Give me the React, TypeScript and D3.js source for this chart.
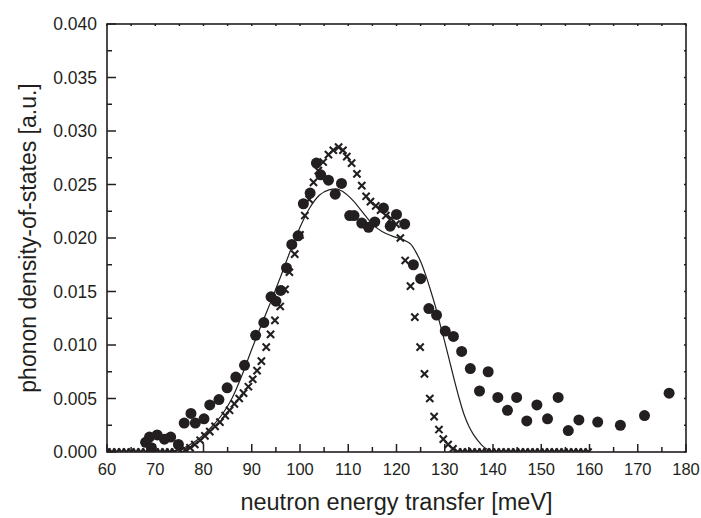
import React from "react";
import * as d3 from "d3";

// ---- data ----
const dotE = [68.0, 68.8, 69.2, 70.4, 71.9, 73.2, 74.8, 76.0, 77.4, 78.3, 80.1, 81.3, 83.2, 84.9, 86.7, 88.5, 90.8, 92.5, 94.0, 95.0, 96.0, 97.2, 98.3, 99.6, 100.7, 102.1, 103.4, 104.3, 105.9, 107.3, 108.6, 110.3, 111.2, 112.8, 114.2, 115.5, 117.3, 118.7, 120.0, 121.7, 123.5, 125.0, 126.7, 128.3, 130.1, 131.8, 133.5, 135.3, 137.2, 139.0, 141.0, 143.0, 144.9, 147.0, 149.1, 151.3, 153.5, 155.6, 157.8, 161.7, 166.4, 171.4, 176.5];
const dotV = [0.0009, 0.0014, 0.0004, 0.0016, 0.0012, 0.0014, 0.0007, 0.0027, 0.0036, 0.0027, 0.0031, 0.0044, 0.0049, 0.0060, 0.0070, 0.0081, 0.0109, 0.0121, 0.0145, 0.0141, 0.0151, 0.0172, 0.0194, 0.0202, 0.0232, 0.0242, 0.0270, 0.0259, 0.0254, 0.0241, 0.0251, 0.0221, 0.0221, 0.0214, 0.0210, 0.0215, 0.0228, 0.0211, 0.0222, 0.0213, 0.0175, 0.0162, 0.0134, 0.0128, 0.0113, 0.0108, 0.0094, 0.0078, 0.0057, 0.0075, 0.0051, 0.0039, 0.0051, 0.0029, 0.0044, 0.0031, 0.0051, 0.0020, 0.0030, 0.0028, 0.0025, 0.0034, 0.0055];

const crossE = [60, 61, 62, 63, 64, 65, 66, 67, 68, 69, 70, 71, 72, 73, 74, 75.2, 76.2, 77.2, 78.2, 79.3, 80.3, 81.3, 82.4, 83.4, 84.5, 85.4, 86.4, 87.4, 88.3, 89.3, 90.2, 91.1, 92.0, 93.0, 93.9, 94.8, 95.9, 96.9, 97.8, 98.9, 100.0, 101.0, 101.9, 102.8, 103.8, 104.8, 105.9, 106.9, 108.0, 108.9, 109.7, 110.7, 111.8, 112.8, 113.7, 114.6, 115.7, 116.7, 117.8, 118.9, 119.9, 120.8, 121.8, 122.9, 123.8, 124.9, 125.8, 126.9, 127.8, 128.8, 129.7, 130.7, 131.7, 132.7, 133.7, 134.7, 135.7, 136.7, 137.7, 138.7, 139.7, 140.7, 141.7, 142.7, 143.7, 144.7, 145.7, 146.7, 147.7, 148.7, 149.7, 150.7, 151.7, 152.7, 153.7, 154.7, 155.7, 156.7, 157.7, 158.7, 159.7];
const crossV = [0, 0, 0, 0, 0, 0, 0, 0, 0, 0, 0, 0, 0, 0, 0, 0.0001, 0.0002, 0.0004, 0.0007, 0.0011, 0.0015, 0.0019, 0.0024, 0.0028, 0.0034, 0.0039, 0.0045, 0.0050, 0.0055, 0.0061, 0.0068, 0.0076, 0.0085, 0.0098, 0.0110, 0.0123, 0.0136, 0.0152, 0.0168, 0.0185, 0.0203, 0.0221, 0.0236, 0.0252, 0.0263, 0.0271, 0.0278, 0.0282, 0.0285, 0.0282, 0.0276, 0.0270, 0.0260, 0.0249, 0.0239, 0.0234, 0.0230, 0.0226, 0.0221, 0.0218, 0.0213, 0.0200, 0.0179, 0.0155, 0.0126, 0.0098, 0.0073, 0.0050, 0.0033, 0.0021, 0.0012, 0.0007, 0.0003, 0, 0, 0, 0, 0, 0, 0, 0, 0, 0, 0, 0, 0, 0, 0, 0, 0, 0, 0, 0, 0, 0, 0, 0, 0, 0, 0, 0];

const lineE = [70, 72, 74, 76, 78, 80, 82, 84, 86, 88, 90, 92, 94, 96, 98, 100, 102, 104, 106, 107.5, 109, 111, 113, 115, 117, 119, 121, 122, 123, 124, 125, 126, 127, 128, 129, 130, 131, 132, 133, 134, 135, 136, 137, 138, 139, 140];
const lineV = [0, 0, 0.0001, 0.0004, 0.0009, 0.0016, 0.0025, 0.0036, 0.0051, 0.0072, 0.0096, 0.0119, 0.0141, 0.0164, 0.0188, 0.0210, 0.0228, 0.0240, 0.0245, 0.0246, 0.0243, 0.0235, 0.0224, 0.0213, 0.0206, 0.0202, 0.0199, 0.0197, 0.0194, 0.0187, 0.0178, 0.0166, 0.0152, 0.0137, 0.0120, 0.0103, 0.0085, 0.0067, 0.0050, 0.0035, 0.0024, 0.0016, 0.0010, 0.0005, 0.0002, 0];

const xMajor = [60, 70, 80, 90, 100, 110, 120, 130, 140, 150, 160, 170, 180];
const yMajor = [0, 0.005, 0.01, 0.015, 0.02, 0.025, 0.03, 0.035, 0.04];

const W = 701, H = 518;
const L = 107, R = 686, T = 24, B = 452;
const INK = "#231f20";

export default function App() {
  const x = d3.scaleLinear().domain([60, 180]).range([L, R]);
  const y = d3.scaleLinear().domain([0, 0.04]).range([B, T]);
  const xMinor = d3.range(65, 180, 10);
  const yMinor = d3.range(0.0025, 0.04, 0.005);

  const line = d3
    .line<number>()
    .x((_, i) => x(lineE[i]))
    .y((_, i) => y(lineV[i]))
    .curve(d3.curveMonotoneX);
  const lineData = lineE.map((_, i) => i);

  const cs = 3.6;
  const font = "Liberation Sans, Arial, Helvetica, sans-serif";

  return (
    <svg width={W} height={H} style={{ position: "absolute", left: 0, top: 0, background: "#fff" }} fontFamily={font}>
      <defs>
        <clipPath id="plotclip">
          <rect x={L} y={T} width={R - L} height={B - T} />
        </clipPath>
      </defs>
      <g clipPath="url(#plotclip)">
        {dotE.map((e, i) => (
          <circle key={"d" + i} cx={x(e)} cy={y(dotV[i])} r={5.5} fill={INK} />
        ))}
        <path d={line(lineData) || ""} fill="none" stroke={INK} strokeWidth={1.2} />
        {crossE.map((e, i) => {
          const cx = x(e), cy = y(crossV[i]);
          return (
            <path
              key={"c" + i}
              d={`M${cx - cs},${cy - cs}L${cx + cs},${cy + cs}M${cx - cs},${cy + cs}L${cx + cs},${cy - cs}`}
              stroke={INK}
              strokeWidth={2.1}
              fill="none"
            />
          );
        })}
      </g>
      {xMajor.map((v) => (
        <g key={"xt" + v}>
          <line x1={x(v)} x2={x(v)} y1={B} y2={B - 8} stroke={INK} strokeWidth={1.5} />
          <line x1={x(v)} x2={x(v)} y1={T} y2={T + 2} stroke={INK} strokeWidth={1.5} />
          <text x={x(v)} y={475} textAnchor="middle" fontSize={16.5} fill={INK}>
            {v}
          </text>
        </g>
      ))}
      {xMinor.map((v) => (
        <g key={"xm" + v}>
          <line x1={x(v)} x2={x(v)} y1={B} y2={B - 5} stroke={INK} strokeWidth={1.5} />
          <line x1={x(v)} x2={x(v)} y1={T} y2={T + 2} stroke={INK} strokeWidth={1.5} />
        </g>
      ))}
      {yMajor.map((v) => (
        <g key={"yt" + v}>
          <line x1={L} x2={L + 9} y1={y(v)} y2={y(v)} stroke={INK} strokeWidth={1.5} />
          <line x1={R} x2={R - 2} y1={y(v)} y2={y(v)} stroke={INK} strokeWidth={1.5} />
          <text x={97} y={y(v)} dy="0.35em" textAnchor="end" fontSize={17.5} fill={INK}>
            {v.toFixed(3)}
          </text>
        </g>
      ))}
      {yMinor.map((v, i) => (
        <g key={"ym" + i}>
          <line x1={L} x2={L + 5} y1={y(v)} y2={y(v)} stroke={INK} strokeWidth={1.5} />
          <line x1={R} x2={R - 2} y1={y(v)} y2={y(v)} stroke={INK} strokeWidth={1.5} />
        </g>
      ))}
      <rect x={L} y={T} width={R - L} height={B - T} fill="none" stroke={INK} strokeWidth={1.6} />
      <text x={(L + R) / 2} y={510} textAnchor="middle" fontSize={23.5} fill={INK}>
        neutron energy transfer [meV]
      </text>
      <text
        transform={`translate(36,${(T + B) / 2}) rotate(-90)`}
        textAnchor="middle"
        fontSize={23}
        fill={INK}
      >
        phonon density-of-states [a.u.]
      </text>
    </svg>
  );
}
